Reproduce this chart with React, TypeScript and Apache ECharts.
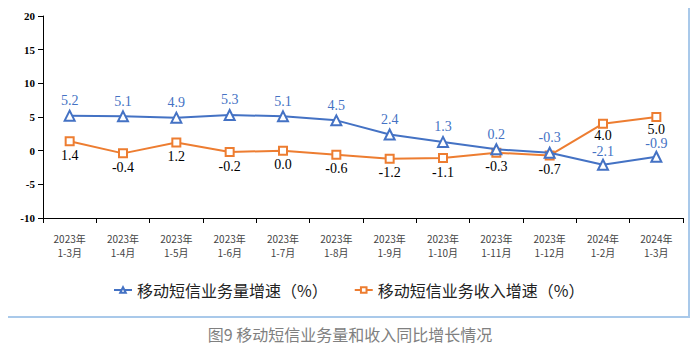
import React, { useEffect, useRef } from "react";
import * as echarts from "echarts";

const categories = [
  "2023年\n1-3月", "2023年\n1-4月", "2023年\n1-5月", "2023年\n1-6月",
  "2023年\n1-7月", "2023年\n1-8月", "2023年\n1-9月", "2023年\n1-10月",
  "2023年\n1-11月", "2023年\n1-12月", "2024年\n1-2月", "2024年\n1-3月",
];
const volumeGrowth = [5.2, 5.1, 4.9, 5.3, 5.1, 4.5, 2.4, 1.3, 0.2, -0.3, -2.1, -0.9];
const revenueGrowth = [1.4, -0.4, 1.2, -0.2, 0.0, -0.6, -1.2, -1.1, -0.3, -0.7, 4.0, 5.0];
const seriesNames = ["移动短信业务量增速（%）", "移动短信业务收入增速（%）"];
const caption = "图9 移动短信业务量和收入同比增长情况";

const BLUE = "#4472C4";
const ORANGE = "#ED7D31";
const CJK = "'Noto Sans CJK SC', sans-serif";
const SERIF = "'Liberation Serif', 'Times New Roman', serif";

// last two points: labels of both series sit close together, keep them tight to their markers
const tight = (i: number) => i >= 10;

export default function App() {
  const ref = useRef<HTMLDivElement>(null);
  useEffect(() => {
    if (!ref.current) return;
    const chart = echarts.init(ref.current, undefined, { renderer: "svg" });
    chart.setOption({
      animation: false,
      backgroundColor: "#fff",
      grid: { left: 43, right: 17, top: 16, bottom: 134 },
      graphic: [
        {
          type: "rect",
          shape: { x: 6, y: 5, width: 683, height: 312 },
          style: { fill: "none", stroke: "#A9C9EA", lineWidth: 2 },
          silent: true,
        },
        {
          type: "text",
          x: 350,
          y: 334,
          style: {
            text: caption,
            fill: "#808080",
            font: `16px ${CJK}`,
            textAlign: "center",
            textVerticalAlign: "middle",
          },
        },
      ],
      legend: {
        left: 108,
        top: 277,
        itemWidth: 18,
        itemHeight: 7,
        itemGap: 26,
        textStyle: { fontFamily: CJK, fontSize: 16, color: "#222" },
        data: seriesNames,
      },
      xAxis: {
        type: "category",
        data: categories,
        boundaryGap: true,
        axisLine: { onZero: false, lineStyle: { color: "#000", width: 1 } },
        axisTick: { show: true, length: 5, alignWithLabel: false, lineStyle: { color: "#000" } },
        axisLabel: {
          interval: 0,
          margin: 13,
          fontFamily: CJK,
          fontSize: 10,
          lineHeight: 14,
          color: "#444",
        },
      },
      yAxis: {
        type: "value",
        min: -10,
        max: 20,
        interval: 5,
        splitLine: { show: false },
        axisLine: { show: true, lineStyle: { color: "#000", width: 1 } },
        axisTick: { show: true, length: 5, lineStyle: { color: "#000" } },
        axisLabel: {
          fontFamily: SERIF,
          fontWeight: "bold",
          fontSize: 11,
          color: "#000",
          margin: 8,
        },
      },
      series: [
        {
          name: seriesNames[0],
          type: "line",
          data: volumeGrowth.map((v, i) =>
            tight(i) ? { value: v, label: { distance: 0 } } : v
          ),
          color: BLUE,
          lineStyle: { color: BLUE, width: 2 },
          symbol: "triangle",
          symbolSize: 10,
          itemStyle: { color: "#fff", borderColor: BLUE, borderWidth: 2 },
          label: {
            show: true,
            position: "top",
            distance: 2,
            color: BLUE,
            fontFamily: SERIF,
            fontSize: 14,
            formatter: (p: any) => Number(p.value).toFixed(1),
          },
          z: 3,
        },
        {
          name: seriesNames[1],
          type: "line",
          data: revenueGrowth.map((v, i) =>
            tight(i) ? { value: v, label: { distance: 0 } } : v
          ),
          color: ORANGE,
          lineStyle: { color: ORANGE, width: 2 },
          symbol: "rect",
          symbolSize: 8,
          itemStyle: { color: "#fff", borderColor: ORANGE, borderWidth: 2 },
          label: {
            show: true,
            position: "bottom",
            distance: 2,
            color: "#000",
            fontFamily: SERIF,
            fontSize: 14,
            formatter: (p: any) => Number(p.value).toFixed(1),
          },
          z: 2,
        },
      ],
    });
    return () => chart.dispose();
  }, []);
  return <div ref={ref} style={{ width: 700, height: 352, marginLeft: -8, marginTop: -8 }} />;
}
